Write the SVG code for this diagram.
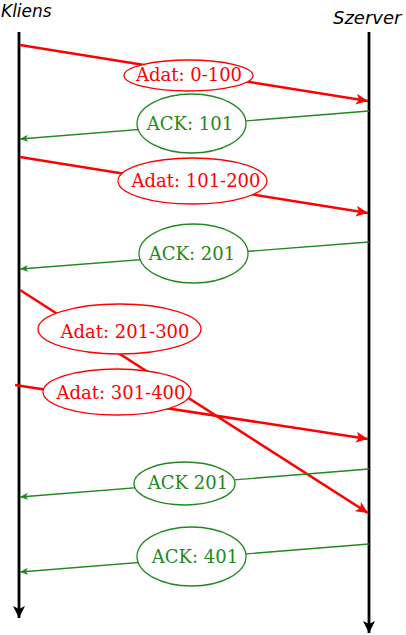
<svg xmlns="http://www.w3.org/2000/svg" width="406" height="635" viewBox="0 0 406 635">
<defs>
<style>
.life{stroke:#000;stroke-width:2.8;fill:none}
.data{stroke:#ff0000;stroke-width:2.5;fill:none}
.ack{stroke:#228822;stroke-width:1.3;fill:none}
.dbox{fill:#fff;stroke:#ff0000;stroke-width:1.3}
.abox{fill:#fff;stroke:#228822;stroke-width:1.3}
.dtxt{font-family:"DejaVu Serif",serif;font-size:18px;fill:#ff0000;text-anchor:middle}
.atxt{font-family:"DejaVu Serif",serif;font-size:18px;fill:#228822;text-anchor:middle}
.lbl{font-family:"DejaVu Sans",sans-serif;font-style:italic;fill:#000}
</style>
<marker id="mk" markerUnits="userSpaceOnUse" markerWidth="14" markerHeight="14" refX="12" refY="6" orient="auto" viewBox="0 0 14 12">
<path d="M0,0 L12,6 L0,12 L3,6 z" fill="#000"/>
</marker>
<marker id="mr" markerUnits="userSpaceOnUse" markerWidth="14" markerHeight="12" refX="12" refY="5.5" orient="auto" viewBox="0 0 14 11">
<path d="M0,0 L12,5.5 L0,11 L3,5.5 z" fill="#ff0000"/>
</marker>
<marker id="mg" markerUnits="userSpaceOnUse" markerWidth="9" markerHeight="8" refX="8" refY="3.5" orient="auto" viewBox="0 0 9 7">
<path d="M0,0 L8,3.5 L0,7 L2,3.5 z" fill="#228822"/>
</marker>
</defs>
<g id="kliens">
<text class="lbl" x="1" y="17" font-size="17">Kliens</text>
<line class="life" x1="19" y1="32" x2="19" y2="618" marker-end="url(#mk)"/>
</g>
<g id="szerver">
<text class="lbl" x="333" y="24" font-size="18">Szerver</text>
<line class="life" x1="369" y1="32" x2="369" y2="633" marker-end="url(#mk)"/>
</g>
<g id="connectors">
<line class="data" x1="20" y1="45" x2="368" y2="101" marker-end="url(#mr)"/>
<line class="ack" x1="369" y1="111" x2="20" y2="139" marker-end="url(#mg)"/>
<line class="data" x1="20" y1="157" x2="368" y2="213" marker-end="url(#mr)"/>
<line class="ack" x1="369" y1="242" x2="20" y2="269" marker-end="url(#mg)"/>
<line class="data" x1="20" y1="290" x2="368" y2="513" marker-end="url(#mr)"/>
<line class="data" x1="15" y1="385" x2="368" y2="439" marker-end="url(#mr)"/>
<line class="ack" x1="369" y1="469" x2="20" y2="497" marker-end="url(#mg)"/>
<line class="ack" x1="369" y1="544" x2="20" y2="572" marker-end="url(#mg)"/>
</g>
<g id="d1"><ellipse class="dbox" cx="188.5" cy="75.5" rx="64.5" ry="15.5"/><text class="dtxt" x="189" y="81">Adat: 0-100</text></g>
<g id="a1"><ellipse class="abox" cx="191.5" cy="123.5" rx="54.5" ry="29.5"/><text class="atxt" x="190" y="130">ACK: 101</text></g>
<g id="d2"><ellipse class="dbox" cx="192.5" cy="181" rx="74.5" ry="23"/><text class="dtxt" x="196" y="187">Adat: 101-200</text></g>
<g id="a2"><ellipse class="abox" cx="193.5" cy="253.5" rx="54.5" ry="29.5"/><text class="atxt" x="192" y="260">ACK: 201</text></g>
<g id="d3"><ellipse class="dbox" cx="119.5" cy="329" rx="81.5" ry="25"/><text class="dtxt" x="125" y="338">Adat: 201-300</text></g>
<g id="d4"><ellipse class="dbox" cx="117" cy="392" rx="74" ry="23"/><text class="dtxt" x="121" y="399">Adat: 301-400</text></g>
<g id="a3"><ellipse class="abox" cx="184.5" cy="483.5" rx="50.5" ry="21.5"/><text class="atxt" x="188" y="489">ACK 201</text></g>
<g id="a4"><ellipse class="abox" cx="191.5" cy="556.5" rx="54.5" ry="29.5"/><text class="atxt" x="195" y="563">ACK: 401</text></g>
</svg>
